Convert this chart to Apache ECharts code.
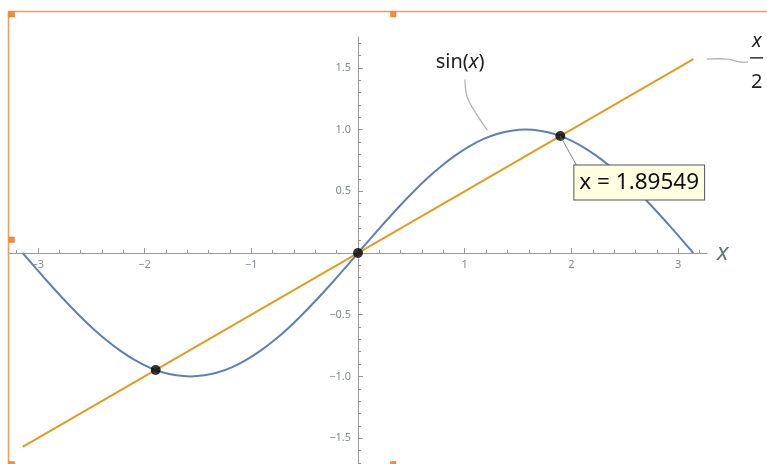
<!DOCTYPE html>
<html>
<head>
<meta charset="utf-8">
<script src="https://cdn.jsdelivr.net/npm/echarts@6/dist/echarts.min.js"></script>
<style>html,body{margin:0;padding:0;background:#fff;}#c{width:767px;height:464px;}</style>
</head>
<body>
<div id="c"></div>
<script>
// ---- data ----
const sinX = [-3.142,-3.011,-2.880,-2.749,-2.618,-2.487,-2.356,-2.225,-2.094,-1.963,-1.833,-1.702,
              -1.571,-1.440,-1.309,-1.178,-1.047,-0.916,-0.785,-0.654,-0.524,-0.393,-0.262,-0.131,0,
              0.131,0.262,0.393,0.524,0.654,0.785,0.916,1.047,1.178,1.309,1.440,1.571,
              1.702,1.833,1.963,2.094,2.225,2.356,2.487,2.618,2.749,2.880,3.011,3.142];
const sinY = [0,-0.131,-0.259,-0.383,-0.5,-0.609,-0.707,-0.793,-0.866,-0.924,-0.966,-0.991,
              -1,-0.991,-0.966,-0.924,-0.866,-0.793,-0.707,-0.609,-0.5,-0.383,-0.259,-0.131,0,
              0.131,0.259,0.383,0.5,0.609,0.707,0.793,0.866,0.924,0.966,0.991,1,
              0.991,0.966,0.924,0.866,0.793,0.707,0.609,0.5,0.383,0.259,0.131,0];
const halfX = [-3.142, 3.142];
const halfY = [-1.571, 1.571];
const crossX = [-1.8955, 0, 1.8955];
const crossY = [-0.9477, 0, 0.9477];
const xMajor = [-3,-2,-1,1,2,3];
const xLabels = [-3,-2,-1,1,2,3];
const xMinor = [-3.2,-2.8,-2.6,-2.4,-2.2,-1.8,-1.6,-1.4,-1.2,-0.8,-0.6,-0.4,-0.2,
                0.2,0.4,0.6,0.8,1.2,1.4,1.6,1.8,2.2,2.4,2.6,2.8,3.2];
const yMajor = [-1.5,-1,-0.5,0.5,1,1.5];
const yLabels = [-1.5,-1,-0.5,0.5,1,1.5];
const yMinor = [-1.7,-1.6,-1.4,-1.3,-1.2,-1.1,-0.9,-0.8,-0.7,-0.6,-0.4,-0.3,-0.2,-0.1,
                0.1,0.2,0.3,0.4,0.6,0.7,0.8,0.9,1.1,1.2,1.3,1.4,1.6,1.7];
const rootLabel = 'x = 1.89549';

const zip = (a,b) => a.map((v,i)=>[v,b[i]]);
const minus = s => String(s).replace('-', '\u2212');
const AX = '#9a9a9a';
const LBL = '#858c97';
const FONT = 'Noto Sans';
const X_MIN = -3.27, X_MAX = 3.27, Y_MIN = -1.75, Y_MAX = 1.75;
const G = {left:9, width:698, top:37, height:432};
const GRID = Object.assign({containLabel:false, outerBoundsMode:'none'}, G);
// axes cross at zero: shift them inward from the grid edges to the zero line
const xOffset = -(G.height * (0 - Y_MIN) / (Y_MAX - Y_MIN));
const yOffset = -(G.width * (0 - X_MIN) / (X_MAX - X_MIN));

const chart = echarts.init(document.getElementById('c'), null, {renderer:'canvas'});
function xAx(gridIndex, ticks, len, labels) {
  const o = {
    type:'value', gridIndex, min:X_MIN, max:X_MAX, position:'bottom', offset:xOffset, splitLine:{show:false},
    axisLine:{show:gridIndex===0, onZero:false, lineStyle:{color:AX, width:1}},
    axisTick:{show:true, inside:true, length:len, customValues:ticks, lineStyle:{color:AX}},
    axisLabel:labels ? {show:true, customValues:labels, margin:6, fontSize:11, color:LBL, fontFamily:FONT,
                        formatter:v=>minus(v)} : {show:false}
  };
  if (gridIndex===0) {
    o.name = 'x'; o.nameLocation = 'end'; o.nameGap = 10;
    o.nameTextStyle = {fontStyle:'italic', fontSize:24, color:'#687285', fontFamily:FONT, verticalAlign:'middle', padding:[0,0,5,0]};
  }
  return o;
}
function yAx(gridIndex, ticks, len, labels) {
  return {
    type:'value', gridIndex, min:Y_MIN, max:Y_MAX, position:'left', offset:yOffset, splitLine:{show:false},
    axisLine:{show:gridIndex===0, onZero:false, lineStyle:{color:AX, width:1}},
    axisTick:{show:true, inside:true, length:len, customValues:ticks, lineStyle:{color:AX}},
    axisLabel:labels ? {show:true, customValues:labels, margin:7, fontSize:11, color:LBL, fontFamily:FONT,
                        formatter:v=>minus(Number(v).toFixed(1))} : {show:false}
  };
}
chart.setOption({
  animation:false,
  backgroundColor:'#fff',
  grid:[Object.assign({}, GRID), Object.assign({}, GRID)],
  xAxis:[xAx(0, xMajor, 5, xLabels), xAx(1, xMinor, 3, null)],
  yAxis:[yAx(0, yMajor, 5, yLabels), yAx(1, yMinor, 3, null)],
  series:[
    {type:'line', name:'sin(x)', data:zip(sinX,sinY), smooth:0.3, showSymbol:false, z:3,
     lineStyle:{color:'#5E81B5', width:2}, itemStyle:{color:'#5E81B5'}},
    {type:'line', name:'x/2', data:zip(halfX,halfY), showSymbol:false, z:4,
     lineStyle:{color:'#E19C24', width:2}, itemStyle:{color:'#E19C24'}},
    {type:'scatter', data:zip(crossX,crossY), symbolSize:10, z:10, itemStyle:{color:'#000'}}
  ]
});

// ---- annotations placed through the chart's own coordinate system ----
const P = (x,y) => chart.convertToPixel({gridIndex:0}, [x,y]);
const tip = P(1.8955, 0.9477);
const boxC = P(2.635, 0.571);
const sinLbl = P(0.956, 1.547);
const fracX = P(3.737, 1.716), frac2 = P(3.737, 1.387);
const barL = P(3.674, 1.581), barR = P(3.796, 1.581);
const sinCallout = [[1.003,1.406],[1.022,1.266],[1.097,1.144],[1.212,0.996]].map(p=>P(p[0],p[1]));
const halfCallout = [[3.268,1.571],[3.456,1.571],[3.608,1.544],[3.655,1.551]].map(p=>P(p[0],p[1]));
const leaderEnd = P(2.052, 0.704);
const frameStroke = '#F59A5E', hFill = '#F28C3E', hStroke = '#E07A2A';
const handle = (x,y) => ({type:'rect', silent:true, z:101, shape:{x, y, width:5.5, height:5.5},
                          style:{fill:hFill, stroke:hStroke, lineWidth:0.5}});
chart.setOption({
  graphic:[
    {type:'polyline', silent:true, z:50, shape:{points:sinCallout, smooth:0.4}, style:{stroke:'#b4b4b4', lineWidth:1.3, fill:null}},
    {type:'polyline', silent:true, z:50, shape:{points:halfCallout, smooth:0.4}, style:{stroke:'#b4b4b4', lineWidth:1.3, fill:null}},
    {type:'line', silent:true, z:50, shape:{x1:tip[0], y1:tip[1], x2:leaderEnd[0], y2:leaderEnd[1]}, style:{stroke:'#666', lineWidth:0.8}},
    {type:'line', silent:true, z:50, shape:{x1:barL[0], y1:barL[1], x2:barR[0], y2:barR[1]}, style:{stroke:'#222', lineWidth:1.4}},
    {type:'text', silent:true, z:60, x:sinLbl[0], y:sinLbl[1],
     style:{text:'{a|sin(}{b|x}{a|)}', align:'center', verticalAlign:'middle',
            rich:{a:{fontSize:20, fill:'#222', fontFamily:FONT}, b:{fontSize:20, fill:'#222', fontStyle:'italic', fontFamily:FONT}}}},
    {type:'text', silent:true, z:60, x:fracX[0], y:fracX[1],
     style:{text:'x', align:'center', verticalAlign:'middle', fontSize:20, fontStyle:'italic', fill:'#222', fontFamily:FONT}},
    {type:'text', silent:true, z:60, x:frac2[0], y:frac2[1],
     style:{text:'2', align:'center', verticalAlign:'middle', fontSize:20, fill:'#222', fontFamily:FONT}},
    {type:'text', silent:true, z:60, x:boxC[0], y:boxC[1],
     style:{text:rootLabel, align:'center', verticalAlign:'middle', fontSize:22.5, fill:'#111', fontFamily:FONT,
            backgroundColor:'#FFFFE2', borderColor:'#555', borderWidth:1, padding:[2,5,2,5], lineHeight:30}},
    {type:'line', silent:true, z:100, shape:{x1:8, y1:11.5, x2:767, y2:11.5}, style:{stroke:frameStroke, lineWidth:1.5}},
    {type:'line', silent:true, z:100, shape:{x1:8.5, y1:11, x2:8.5, y2:464}, style:{stroke:frameStroke, lineWidth:1.5}},
    handle(9,11.5), handle(390.5,11.5), handle(9,237), handle(9,461.5), handle(390.5,461.5)
  ]
});
</script>
</body>
</html>
